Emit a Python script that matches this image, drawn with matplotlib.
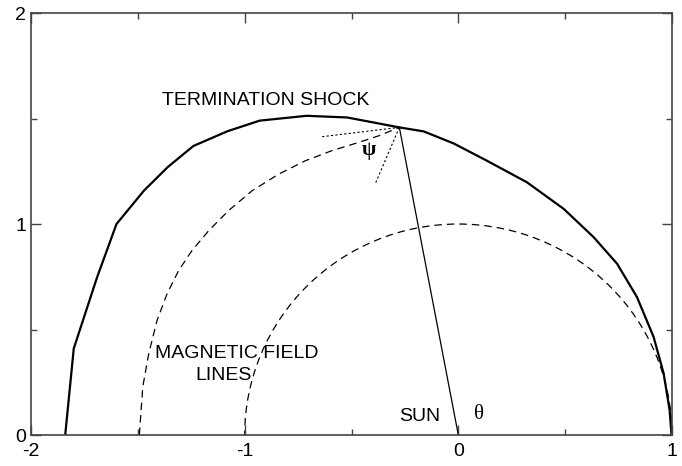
import matplotlib.pyplot as plt
from matplotlib.patches import Arc
from matplotlib.ticker import MultipleLocator

plt.rcParams['font.family'] = ['Liberation Sans', 'DejaVu Sans']
plt.rcParams['axes.unicode_minus'] = False

# termination shock (solid)
shock_x = [-1.84, -1.80, -1.69, -1.60, -1.47, -1.36, -1.24, -1.08, -0.93, -0.71, -0.52, -0.276,
           -0.162, -0.022, 0.134, 0.321, 0.493, 0.633, 0.743, 0.836, 0.914, 0.961, 0.989, 0.998]
shock_y = [0.0, 0.41, 0.75, 1.0, 1.16, 1.27, 1.37, 1.44, 1.49, 1.513, 1.505, 1.458,
           1.439, 1.382, 1.30, 1.198, 1.072, 0.938, 0.812, 0.654, 0.465, 0.292, 0.118, 0.0]

# outer magnetic field line (dashed)
field_x = [-1.493, -1.477, -1.449, -1.41, -1.363, -1.309, -1.246, -1.168, -1.075, -0.965,
           -0.84, -0.716, -0.591, -0.466, -0.373, -0.276]
field_y = [0.0, 0.228, 0.386, 0.544, 0.67, 0.78, 0.875, 0.969, 1.064, 1.158,
           1.237, 1.30, 1.348, 1.387, 1.418, 1.458]

# inner magnetic field line: circle around the sun
inner_r = 1.0

# sun -> shock point, and the two dotted construction lines
sun = (0.0, 0.0)
apex = (-0.276, 1.458)
tangent_end = (-0.646, 1.413)
normal_end = (-0.388, 1.193)

fig = plt.figure(figsize=(6.82, 4.66), dpi=100)
ax = fig.add_axes([0.0455, 0.0665, 0.9398, 0.9055])

ax.plot(shock_x, shock_y, color='black', lw=1.6)
ax.plot(field_x, field_y, color='black', lw=0.9, ls=(0, (6, 4)))
ax.add_patch(Arc(sun, 2 * inner_r, 2 * inner_r, theta1=0, theta2=180,
                 color='black', lw=0.9, ls=(0, (6, 4))))
ax.plot([sun[0], apex[0]], [sun[1], apex[1]], color='black', lw=0.9)
ax.plot([apex[0], tangent_end[0]], [apex[1], tangent_end[1]], color='black', lw=0.8, ls=(0, (2, 2)))
ax.plot([apex[0], normal_end[0]], [apex[1], normal_end[1]], color='black', lw=0.8, ls=(0, (2, 2)))

greek = ['Liberation Serif', 'DejaVu Serif']
ax.text(-0.903, 1.584, 'TERMINATION SHOCK', fontsize=14, ha='center', va='center')
ax.text(-0.42, 1.35, 'ψ', fontsize=15, ha='center', va='center', family=greek, weight='bold')
ax.text(-1.036, 0.386, 'MAGNETIC FIELD', fontsize=14, ha='center', va='center')
ax.text(-1.098, 0.284, 'LINES', fontsize=14, ha='center', va='center')
ax.text(-0.182, 0.087, 'SUN', fontsize=14, ha='center', va='center')
ax.text(0.095, 0.095, 'θ', fontsize=15, ha='center', va='center', family=greek)

ax.set_xlim(-2, 1)
ax.set_ylim(0, 2)
ax.xaxis.set_major_locator(MultipleLocator(1))
ax.xaxis.set_minor_locator(MultipleLocator(0.5))
ax.yaxis.set_major_locator(MultipleLocator(1))
ax.yaxis.set_minor_locator(MultipleLocator(0.5))
ax.tick_params(which='both', direction='in', top=True, right=True, labelsize=14,
               color='#444444', width=1.0)
ax.tick_params(which='major', length=7)
ax.tick_params(which='minor', length=4)
ax.tick_params(axis='x', pad=6)
for s in ax.spines.values():
    s.set_color('#444444')
    s.set_linewidth(1.2)

fig.savefig('out.png', dpi=100)
